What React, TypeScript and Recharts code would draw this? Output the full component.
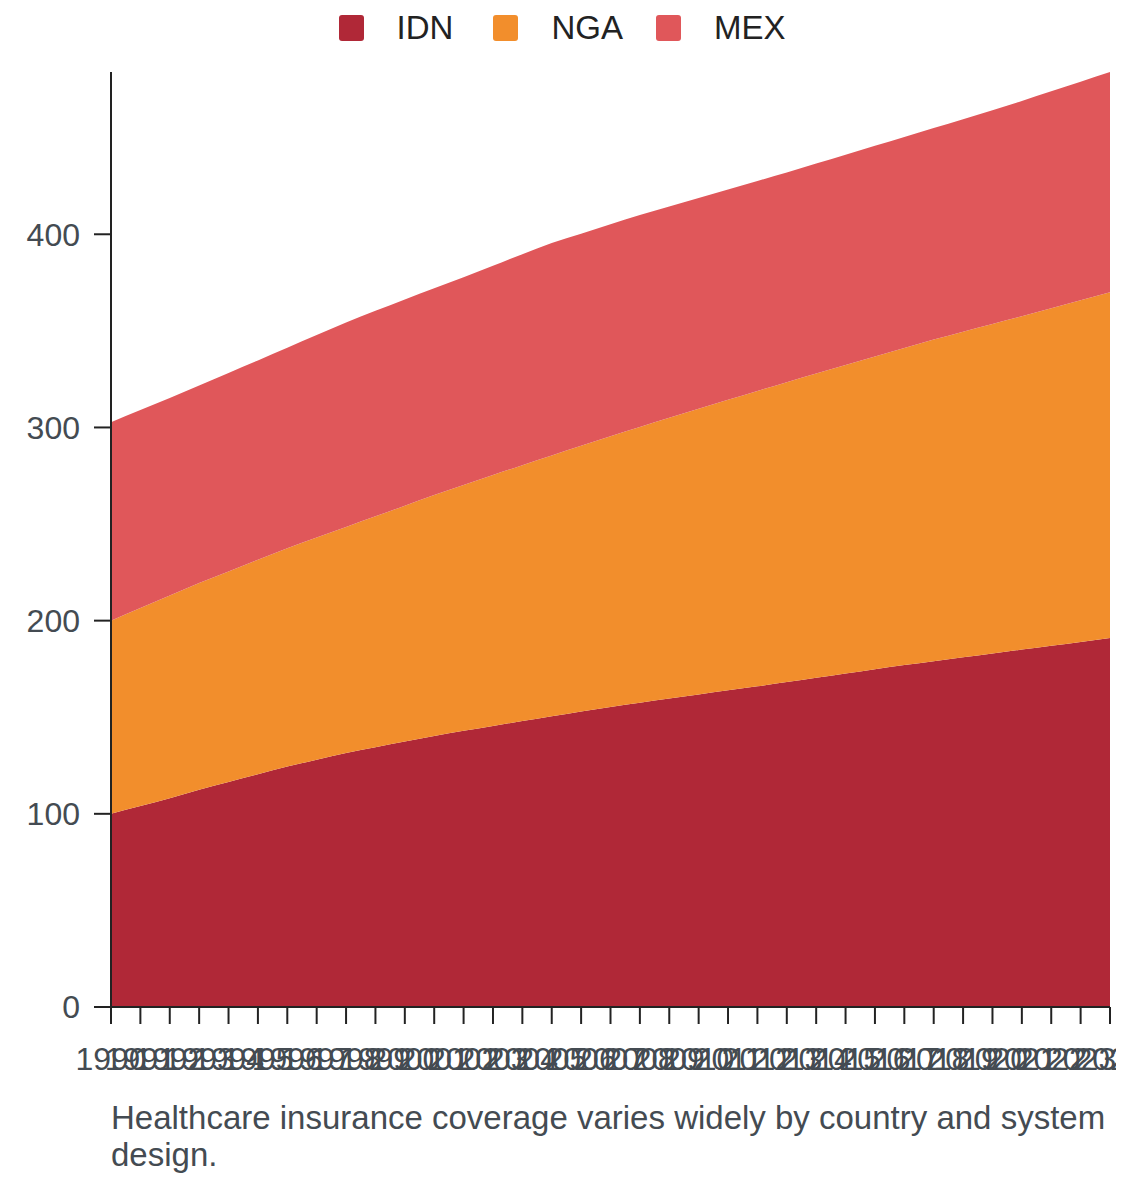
import React from "react";
import { AreaChart, Area, XAxis, YAxis } from "recharts";

// Values (stacked: IDN bottom, NGA middle, MEX top).
const YEARS = [
  1990, 1991, 1992, 1993, 1994, 1995, 1996, 1997, 1998, 1999, 2000, 2001,
  2002, 2003, 2004, 2005, 2006, 2007, 2008, 2009, 2010, 2011, 2012, 2013,
  2014, 2015, 2016, 2017, 2018, 2019, 2020, 2021, 2022, 2023, 2024,
];

const IDN = [
  100, 104, 108, 112.5, 116.5, 120.5, 124.5, 128, 131.5, 134.5, 137.5, 140.3,
  143, 145.5, 148, 150.5, 153, 155.3, 157.5, 159.7, 161.8, 164, 166, 168.2,
  170.4, 172.6, 174.8, 177, 179, 181, 183, 185, 187, 189, 191,
];

const NGA = [
  100, 102.5, 105, 107, 109, 111, 113, 115, 117, 119.5, 122, 124.7, 127.2,
  129.9, 132.5, 135, 137.5, 140.2, 142.8, 145.3, 147.9, 150.3, 152.9, 155.2,
  157.5, 159.7, 161.9, 164.1, 166.5, 168.6, 170.6, 172.6, 174.7, 176.8, 179,
];

const MEX = [
  102.7, 102.5, 102.3, 102.2, 102.7, 103.2, 103.7, 104.8, 105.8, 106.4, 106.8,
  107.1, 107.6, 108.3, 109.2, 110, 109.8, 109.7, 109.7, 109.4, 109.1, 108.9,
  108.7, 108.6, 108.7, 108.9, 109.1, 109.3, 109.5, 110, 110.6, 111.4, 112.3,
  113.2, 114,
];

const Y_TICKS = [0, 100, 200, 300, 400];

const SERIES = [
  { key: "IDN", color: "#B02837", after: 40 },
  { key: "NGA", color: "#F28E2C", after: 33 },
  { key: "MEX", color: "#E0575A", after: 0 },
];

const CAPTION =
  "Healthcare insurance coverage varies widely by country and system design.";

const data = YEARS.map((year, i) => ({
  year,
  IDN: IDN[i],
  NGA: NGA[i],
  MEX: MEX[i],
}));

const FONT = '"Liberation Sans", Arial, sans-serif';
const AXIS = "#222222";
const LABEL = "#444b52";

export default function App() {
  return (
    <div style={{ width: 1108, fontFamily: FONT }}>
      {/* legend row */}
      <div
        style={{
          height: 40,
          display: "flex",
          justifyContent: "center",
          alignItems: "center",
          fontSize: 33,
          color: "#222",
        }}
      >
        {SERIES.map((s) => (
          <div
            key={s.key}
            style={{ display: "flex", alignItems: "center", gap: 33, marginRight: s.after }}
          >
            <span
              style={{
                width: 25,
                height: 26,
                borderRadius: 3,
                background: s.color,
                display: "inline-block",
              }}
            />
            <span style={{ lineHeight: "40px" }}>{s.key}</span>
          </div>
        ))}
      </div>

      <AreaChart
        width={1108}
        height={1052}
        data={data}
        margin={{ top: 24, right: 6, left: 0, bottom: 0 }}
      >
        {SERIES.map((s) => (
          <Area
            key={s.key}
            type="monotone"
            dataKey={s.key}
            stackId="1"
            fill={s.color}
            fillOpacity={1}
            stroke="none"
            isAnimationActive={false}
            dot={false}
            activeDot={false}
          />
        ))}
        <XAxis
          dataKey="year"
          interval={0}
          height={93}
          tickSize={17}
          tickMargin={23}
          axisLine={{ stroke: AXIS, strokeWidth: 2 }}
          tickLine={{ stroke: AXIS, strokeWidth: 2 }}
          tick={{ fill: LABEL, fontSize: 32, fontFamily: FONT }}
        />
        <YAxis
          width={103}
          domain={[0, "dataMax"]}
          ticks={Y_TICKS}
          tickSize={17}
          tickMargin={14}
          axisLine={{ stroke: AXIS, strokeWidth: 2 }}
          tickLine={{ stroke: AXIS, strokeWidth: 2 }}
          tick={{ fill: LABEL, fontSize: 32, fontFamily: FONT }}
        />
      </AreaChart>

      <div
        style={{
          paddingLeft: 103,
          fontSize: 33,
          color: LABEL,
          lineHeight: 1.12,
        }}
      >
        {CAPTION}
      </div>
    </div>
  );
}
